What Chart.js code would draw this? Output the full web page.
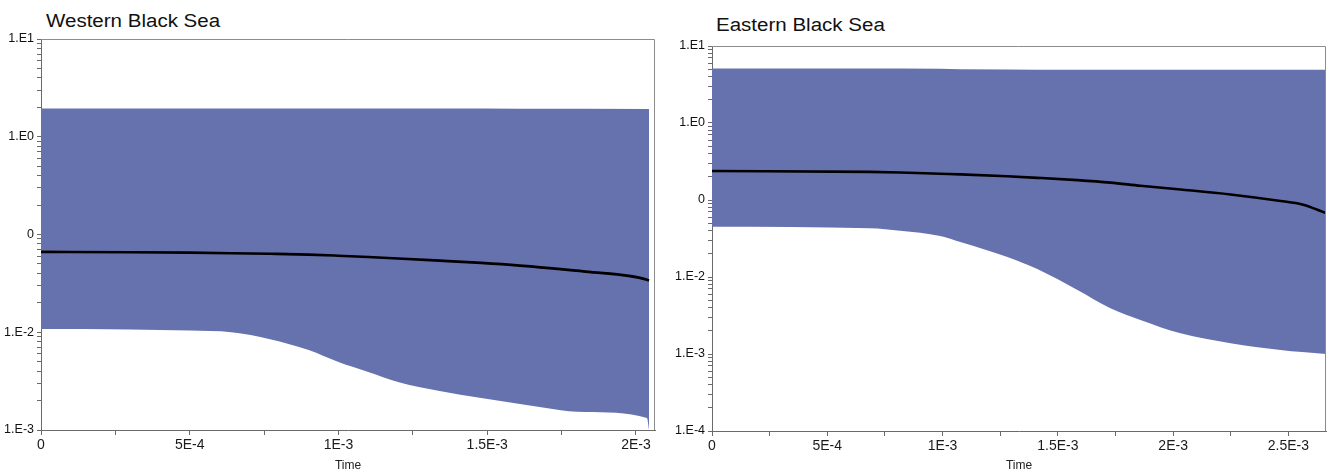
<!DOCTYPE html>
<html><head><meta charset="utf-8">
<script src="https://cdn.jsdelivr.net/npm/chart.js@4.4.1/dist/chart.umd.min.js"></script>
<style>
html,body{margin:0;padding:0;background:#fff;width:1329px;height:473px;overflow:hidden;}
canvas{position:absolute;top:0;}
.title{position:absolute;font-family:'Liberation Sans',Arial,sans-serif;font-size:18px;line-height:18px;color:#111;white-space:nowrap;transform:scaleX(1.14);transform-origin:0 0;}
</style></head><body>
<div class="title" style="left:46px;top:12px">Western Black Sea</div>
<div class="title" style="left:716px;top:16px">Eastern Black Sea</div>
<canvas id="c1" width="665" height="473" style="left:0"></canvas>
<canvas id="c2" width="664" height="473" style="left:665px"></canvas>
<script>
// ---- Western Black Sea ----
const westTime   = [0, 0.0003, 0.0005, 0.00064, 0.00077, 0.0009, 0.001, 0.0011, 0.0012, 0.00134, 0.00148, 0.00161, 0.00183, 0.002037, 0.002044];
const westMedian = [0.0664, 0.0659, 0.0652, 0.0644, 0.0635, 0.0623, 0.0607, 0.0589, 0.0569, 0.0540, 0.0512, 0.0480, 0.0417, 0.0345, 0.0337];
const westUpper  = [1.95, 1.95, 1.95, 1.95, 1.95, 1.95, 1.95, 1.95, 1.95, 1.95, 1.94, 1.93, 1.93, 1.92, 1.92];
const westLower  = [0.0108, 0.0107, 0.0104, 0.0100, 0.0085, 0.00658, 0.00496, 0.00392, 0.0031, 0.00251, 0.00213, 0.00185, 0.00153, 0.00133, 0.001];
const westXTicks = [0, 0.00025, 0.0005, 0.00075, 0.001, 0.00125, 0.0015, 0.00175, 0.002];
const westXLabels = ['0', '', '5E-4', '', '1E-3', '', '1.5E-3', '', '2E-3'];
const westYMajors = [10, 1, 0.1, 0.01, 0.001];
const westYLabels = ['1.E1', '1.E0', '0', '1.E-2', '1.E-3'];

// ---- Eastern Black Sea ----
const eastTime   = [0, 0.000686, 0.000816, 0.00099, 0.001077, 0.001281, 0.001411, 0.001585, 0.001728, 0.001858, 0.002032, 0.002249, 0.002466, 0.00256, 0.002663];
const eastMedian = [0.238, 0.232, 0.228, 0.219, 0.215, 0.203, 0.194, 0.181, 0.168, 0.153, 0.137, 0.118, 0.097, 0.0874, 0.0677];
const eastUpper  = [5.1, 5.1, 5.1, 5.05, 5.0, 4.95, 4.92, 4.9, 4.9, 4.9, 4.9, 4.9, 4.9, 4.9, 4.9];
const eastLower  = [0.045, 0.0429, 0.0399, 0.0341, 0.0285, 0.0182, 0.0127, 0.00678, 0.00393, 0.00277, 0.00186, 0.00138, 0.00113, 0.00106, 0.0010];
const eastXTicks = [0, 0.00025, 0.0005, 0.00075, 0.001, 0.00125, 0.0015, 0.00175, 0.002, 0.00225, 0.0025];
const eastXLabels = ['0', '', '5E-4', '', '1E-3', '', '1.5E-3', '', '2E-3', '', '2.5E-3'];
const eastYMajors = [10, 1, 0.1, 0.01, 0.001, 0.0001];
const eastYLabels = ['1.E1', '1.E0', '0', '1.E-2', '1.E-3', '1.E-4'];

const FONT = "'Liberation Sans', Arial, sans-serif";
const BAND = '#6572AE';
const AXIS = '#6a6a6a';

const framePlugin = {
  id: 'frame',
  afterDraw(chart) {
    const {ctx, chartArea: a} = chart;
    ctx.save();
    ctx.strokeStyle = '#8c8c8c';
    ctx.lineWidth = 1;
    ctx.beginPath();
    ctx.moveTo(a.left, a.top + 0.5);
    ctx.lineTo(a.right - 0.5, a.top + 0.5);
    ctx.lineTo(a.right - 0.5, a.bottom);
    ctx.stroke();
    ctx.restore();
  }
};

function pts(xs, ys) { return xs.map((x, i) => ({x: x, y: ys[i]})); }

function makeChart(id, o) {
  new Chart(document.getElementById(id), {
    type: 'line',
    data: {
      datasets: [
        { data: pts(o.time, o.median), borderColor: '#000', borderWidth: 2.6, pointRadius: 0, fill: false, cubicInterpolationMode: 'monotone' },
        { data: pts(o.time, o.upper), borderColor: BAND, borderWidth: 0, pointRadius: 0, fill: '+1', backgroundColor: BAND, tension: 0 },
        { data: pts(o.time, o.lower), borderColor: BAND, borderWidth: 0, pointRadius: 0, fill: false, backgroundColor: BAND, cubicInterpolationMode: 'monotone' }
      ]
    },
    options: {
      responsive: false,
      animation: false,
      events: [],
      layout: { padding: o.padding },
      plugins: { legend: { display: false }, tooltip: { enabled: false } },
      scales: {
        x: {
          type: 'linear', min: 0, max: o.xMax,
          afterBuildTicks: s => { s.ticks = o.xTicks.map(v => ({value: v})); },
          afterFit: s => { s.height = o.xHeight; },
          ticks: { autoSkip: false, maxRotation: 0, padding: 2, color: '#1a1a1a', font: { family: FONT, size: 14 },
                   callback: (v, i) => o.xLabels[i] },
          grid: { display: true, drawOnChartArea: false, drawTicks: true, tickLength: 5, tickColor: AXIS },
          border: { display: true, color: AXIS, width: 1 },
          title: { display: true, text: 'Time', color: '#222', font: { family: FONT, size: 12 }, padding: { top: 0, bottom: 0 } }
        },
        y: {
          type: 'logarithmic', min: o.yMin, max: o.yMax,
          afterBuildTicks: s => {
            const t = [];
            for (let e = Math.round(Math.log10(o.yMin)); e < Math.round(Math.log10(o.yMax)); e++) {
              for (let k = 1; k <= 9; k++) t.push({value: k * Math.pow(10, e)});
            }
            t.push({value: o.yMax});
            s.ticks = t;
          },
          afterFit: s => { s.width = o.yWidth; },
          ticks: { autoSkip: false, padding: 3, color: '#111', font: { family: FONT, size: 12.5 },
                   callback: v => {
                     const i = o.yMajors.findIndex(m => Math.abs(v / m - 1) < 1e-6);
                     return i >= 0 ? o.yLabels[i] : '';
                   } },
          grid: { display: true, drawOnChartArea: false, drawTicks: true, tickLength: 4, tickColor: AXIS },
          border: { display: true, color: AXIS, width: 1 }
        }
      }
    },
    plugins: [framePlugin]
  });
}

makeChart('c1', {
  time: westTime, median: westMedian, upper: westUpper, lower: westLower,
  xTicks: westXTicks, xLabels: westXLabels, yMajors: westYMajors, yLabels: westYLabels,
  xMax: 0.002064, yMin: 0.001, yMax: 10, yWidth: 41, xHeight: 43,
  padding: { top: 39, right: 10, left: 0, bottom: 0 }
});
makeChart('c2', {
  time: eastTime, median: eastMedian, upper: eastUpper, lower: eastLower,
  xTicks: eastXTicks, xLabels: eastXLabels, yMajors: eastYMajors, yLabels: eastYLabels,
  xMax: 0.002663, yMin: 0.0001, yMax: 10, yWidth: 47, xHeight: 42,
  padding: { top: 46, right: 3, left: 0, bottom: 0 }
});
</script>
</body></html>
